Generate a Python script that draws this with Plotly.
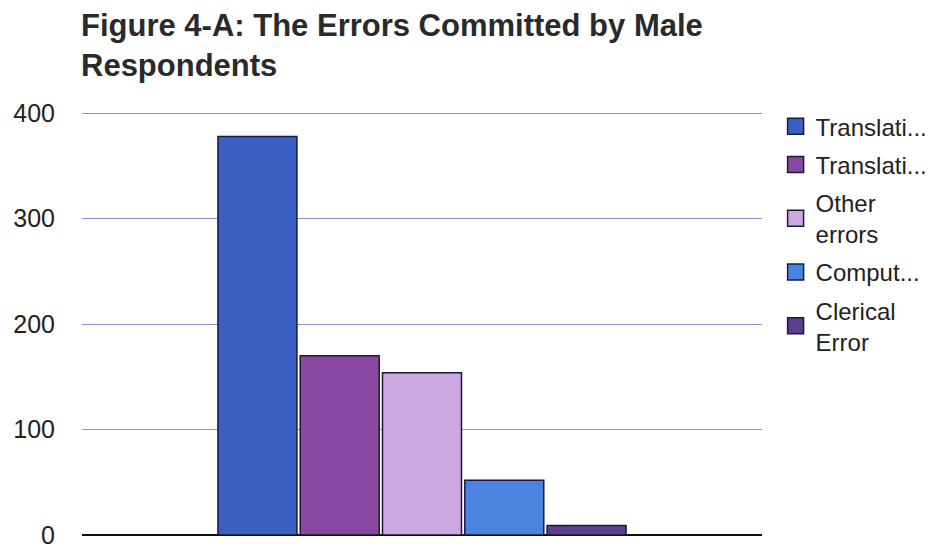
import plotly.graph_objects as go

# Error counts reported by male respondents
categories = ["Male"]
series_names = ["Translati...", "Translati...", "Other<br>errors", "Comput...", "Clerical<br>Error"]
series_values = [378, 170, 154, 52, 9]
series_colors = ["#3a60c4", "#8a48a2", "#cba8e2", "#4a84e0", "#58408a"]
y_ticks = [0, 100, 200, 300, 400]
title_text = "<b>Figure 4-A: The Errors Committed by Male<br>Respondents</b>"

EDGE = "#1a1a3a"
TOP, BOTTOM = 108, 13
PLOT_H = 548 - TOP - BOTTOM

fig = go.Figure()
for i, (name, val, col) in enumerate(zip(series_names, series_values, series_colors)):
    fig.add_trace(go.Bar(
        x=categories, y=[val], name=name, legendgroup=f"g{i}", showlegend=False,
        marker=dict(color=col, line=dict(color=EDGE, width=1.5)),
    ))
    # square legend swatch for the series
    fig.add_trace(go.Scatter(
        x=[None], y=[None], mode="markers", name=name, legendgroup=f"g{i}",
        marker=dict(symbol="square", size=16, color=col, line=dict(color=EDGE, width=1.5)),
    ))

# chart title, anchored at its top-left corner
fig.add_annotation(
    text=title_text, xref="paper", yref="paper", x=0, y=(PLOT_H + TOP - 6) / PLOT_H,
    xanchor="left", yanchor="top", align="left", showarrow=False, xshift=-3,
    font=dict(size=31, color="#2a2a2a"),
)

fig.update_layout(
    width=941, height=548,
    paper_bgcolor="white", plot_bgcolor="white",
    margin=dict(l=82, r=179, t=TOP, b=BOTTOM, autoexpand=False),
    font=dict(family="Liberation Sans, Arial, sans-serif", color="#222222"),
    barmode="group", bargap=0.395, bargroupgap=0.04,
    showlegend=True,
    legend=dict(
        x=1.02, xanchor="left", y=1.009, yanchor="top",
        font=dict(size=24, color="#222222"),
        tracegroupgap=4, itemsizing="trace",
    ),
    xaxis=dict(showticklabels=False, showgrid=False, zeroline=False, showline=False,
               automargin=False),
    yaxis=dict(
        range=[0, 405], tickvals=y_ticks, showgrid=True, gridcolor="#8e8ed0", gridwidth=1,
        zeroline=True, zerolinecolor="#111111", zerolinewidth=2,
        tickfont=dict(size=25, color="#222222"), ticklabelstandoff=26,
        ticklabeloverflow="allow", showline=False, automargin=False,
    ),
)

fig.write_html("out.html")
